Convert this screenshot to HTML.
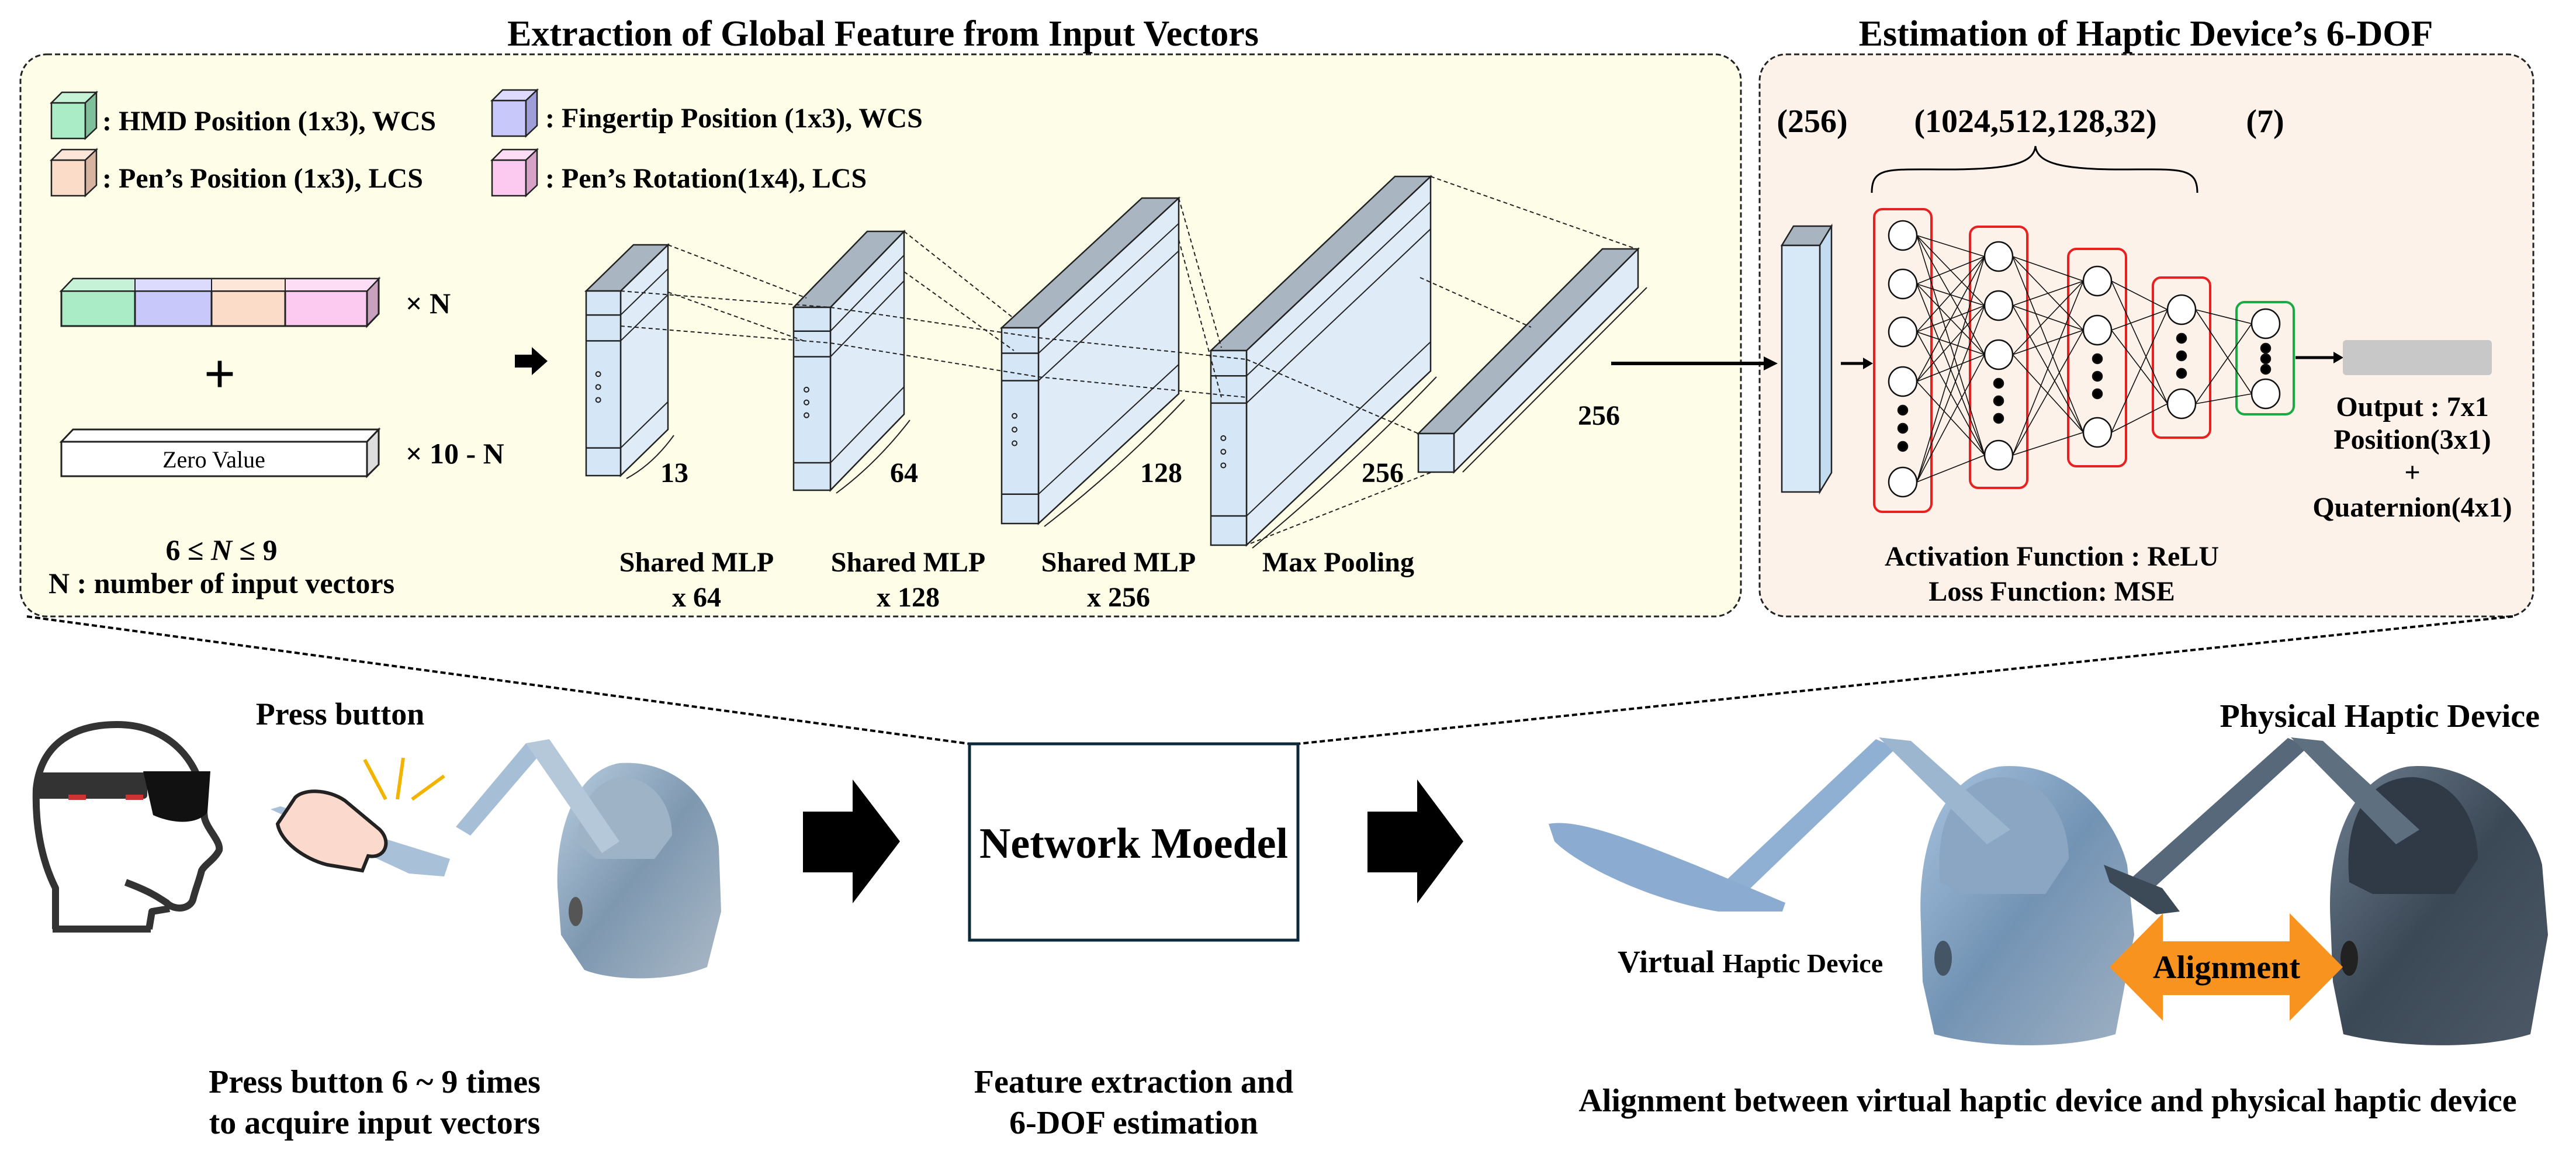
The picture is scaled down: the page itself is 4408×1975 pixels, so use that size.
<!DOCTYPE html>
<html><head><meta charset="utf-8">
<style>
html,body{margin:0;padding:0;background:#fff;}
svg{display:block;}
text{font-family:"Liberation Serif",serif;font-weight:bold;fill:#000;}
</style></head>
<body>
<svg width="4408" height="1975" viewBox="0 0 4408 1975" xmlns="http://www.w3.org/2000/svg">
<defs>
<linearGradient id="dv" x1="0" y1="0" x2="1" y2="1"><stop offset="0" stop-color="#b9cde0"/><stop offset="0.5" stop-color="#7e98b0"/><stop offset="1" stop-color="#aab8c6"/></linearGradient>
<linearGradient id="dv2" x1="0" y1="0" x2="1" y2="1"><stop offset="0" stop-color="#a8c4e0"/><stop offset="0.5" stop-color="#7393b4"/><stop offset="1" stop-color="#9fb0c2"/></linearGradient>
<linearGradient id="dp" x1="0" y1="0" x2="1" y2="1"><stop offset="0" stop-color="#6e7f90"/><stop offset="0.5" stop-color="#3b4856"/><stop offset="1" stop-color="#4d5966"/></linearGradient>
</defs>

<!-- Titles -->
<text x="1511" y="78" font-size="62" text-anchor="middle">Extraction of Global Feature from Input Vectors</text>
<text x="3672" y="78" font-size="62" text-anchor="middle">Estimation of Haptic Device’s 6-DOF</text>

<!-- Panels -->
<rect x="35" y="93" width="2944" height="962" rx="45" fill="#fdfde8" stroke="#222" stroke-width="3" stroke-dasharray="9,5"/>
<rect x="3011" y="93" width="1324" height="962" rx="45" fill="#fdf2ea" stroke="#222" stroke-width="3" stroke-dasharray="9,5"/>

<!-- Legend -->
<g stroke="#222" stroke-width="2.5">
<rect x="88" y="176" width="58" height="61" fill="#a9ecc6"/><polygon points="88,176 106,158 165,158 146,176" fill="#c6f3d8"/><polygon points="146,176 165,158 165,219 146,237" fill="#7fbf9c"/>
<rect x="88" y="274" width="58" height="61" fill="#fbdcc9"/><polygon points="88,274 106,256 165,256 146,274" fill="#fde6d8"/><polygon points="146,274 165,256 165,317 146,335" fill="#d8b4a0"/>
<rect x="842" y="172" width="58" height="61" fill="#c9c8fb"/><polygon points="842,172 860,154 919,154 900,172" fill="#dcdbfd"/><polygon points="900,172 919,154 919,215 900,233" fill="#9f9ed8"/>
<rect x="842" y="274" width="58" height="61" fill="#fccaf0"/><polygon points="842,274 860,256 919,256 900,274" fill="#fddcf5"/><polygon points="900,274 919,256 919,317 900,335" fill="#d6a2c8"/>
</g>
<text x="175" y="223" font-size="48">: HMD Position (1x3), WCS</text>
<text x="175" y="321" font-size="48">: Pen’s Position (1x3), LCS</text>
<text x="933" y="218" font-size="48">: Fingertip Position (1x3), WCS</text>
<text x="933" y="321" font-size="48">: Pen’s Rotation(1x4), LCS</text>

<!-- Input vector -->
<g stroke="#222" stroke-width="3">
<polygon points="105,498 125,477 648,477 628,498" fill="#e8e8ef"/>
<polygon points="628,498 648,477 648,537 628,558" fill="#c9a0be"/>
<rect x="105" y="498" width="126" height="60" fill="#a9ecc6"/>
<rect x="231" y="498" width="131" height="60" fill="#c9c8fb"/>
<rect x="362" y="498" width="126" height="60" fill="#fbdcc9"/>
<rect x="488" y="498" width="140" height="60" fill="#fccaf0"/>
<polygon points="105,756 125,735 648,735 628,756" fill="#fff"/>
<polygon points="628,756 648,735 648,795 628,815" fill="#ddd"/>
<rect x="105" y="756" width="523" height="59" fill="#fff"/>
</g>
<polygon points="125,477 231,477 231,498 105,498" fill="#c6f3d8" stroke="#222" stroke-width="2"/>
<polygon points="231,477 362,477 362,498 231,498" fill="#dcdbfd" stroke="#222" stroke-width="2"/>
<polygon points="362,477 488,477 488,498 362,498" fill="#fde6d8" stroke="#222" stroke-width="2"/>
<polygon points="488,477 648,477 628,498 488,498" fill="#fddcf5" stroke="#222" stroke-width="2"/>
<text x="366" y="800" font-size="40" style="font-weight:normal" text-anchor="middle">Zero Value</text>
<text x="694" y="536" font-size="50">× N</text>
<text x="694" y="793" font-size="50">× 10 - N</text>
<text x="376" y="672" font-size="96" text-anchor="middle">+</text>
<text x="379" y="958" font-size="50" text-anchor="middle">6 ≤ <tspan font-style="italic">N</tspan> ≤ 9</text>
<text x="379" y="1015" font-size="50" text-anchor="middle">N : number of input vectors</text>
<!-- small arrow -->
<polygon points="881,607 910,607 910,594 937,618 910,642 910,629 881,629" fill="#000"/>

<!-- Blocks -->
<g id="blocks" stroke="#222" stroke-width="2.5"></g>
<g stroke="#222" stroke-width="2" stroke-dasharray="7,5" fill="none">
<line x1="1143" y1="419" x2="1380" y2="510"/><line x1="1143" y1="500" x2="1380" y2="585"/>
<line x1="1062" y1="498" x2="1421" y2="526"/><line x1="1062" y1="558" x2="1421" y2="587"/>
<line x1="1547" y1="396" x2="1735" y2="545"/><line x1="1547" y1="465" x2="1735" y2="600"/>
<line x1="1421" y1="526" x2="1777" y2="578"/><line x1="1421" y1="587" x2="1777" y2="645"/>
<line x1="2017" y1="339" x2="2090" y2="595"/><line x1="2017" y1="410" x2="2090" y2="680"/>
<line x1="1777" y1="578" x2="2133" y2="615"/><line x1="1777" y1="645" x2="2133" y2="680"/>
<line x1="2448" y1="302" x2="2800" y2="426"/><line x1="2133" y1="615" x2="2427" y2="742"/>
<line x1="2140" y1="930" x2="2450" y2="808"/><line x1="2430" y1="475" x2="2620" y2="560"/>
</g>
<g font-size="48">
<text x="1130" y="825">13</text><text x="1523" y="825">64</text><text x="1951" y="825">128</text><text x="2330" y="825">256</text><text x="2700" y="727">256</text>
</g>
<g font-size="48" text-anchor="middle">
<text x="1192" y="978">Shared MLP</text><text x="1192" y="1038">x 64</text>
<text x="1554" y="978">Shared MLP</text><text x="1554" y="1038">x 128</text>
<text x="1914" y="978">Shared MLP</text><text x="1914" y="1038">x 256</text>
<text x="2290" y="978">Max Pooling</text>
</g>

<!-- main arrow -->
<line x1="2757" y1="622" x2="3020" y2="622" stroke="#000" stroke-width="6"/>
<polygon points="3018,610 3042,622 3018,634" fill="#000"/>

<!-- Right panel -->
<g font-size="56" text-anchor="middle">
<text x="3101" y="226">(256)</text><text x="3483" y="226">(1024,512,128,32)</text><text x="3876" y="226">(7)</text>
</g>
<path d="M3203,330 C3203,285 3230,290 3330,290 C3440,290 3480,280 3483,250 C3486,280 3530,290 3630,290 C3730,290 3760,285 3760,330" fill="none" stroke="#000" stroke-width="3"/>
<g stroke="#222" stroke-width="2.5">
<polygon points="3049,420 3069,387 3134,387 3114,420" fill="#a8b4c0"/>
<polygon points="3114,420 3134,387 3134,809 3114,842" fill="#c4dcef"/>
<rect x="3049" y="420" width="65" height="422" fill="#d7e8f7"/>
</g>
<line x1="3150" y1="622" x2="3190" y2="622" stroke="#000" stroke-width="5"/>
<polygon points="3188,612 3205,622 3188,632" fill="#000"/>
<g fill="none" stroke="#e82020" stroke-width="4">
<rect x="3207" y="358" width="98" height="518" rx="14"/>
<rect x="3371" y="388" width="98" height="447" rx="14"/>
<rect x="3539" y="426" width="99" height="372" rx="14"/>
<rect x="3684" y="475" width="98" height="274" rx="14"/>
</g>
<rect x="3827" y="517" width="98" height="192" rx="14" fill="none" stroke="#1aaa44" stroke-width="4"/>
<g id="conn" stroke="#111" stroke-width="1.6"></g>
<g id="nodes" fill="#fff" stroke="#111" stroke-width="2.5"></g>
<line x1="3928" y1="612" x2="3995" y2="612" stroke="#000" stroke-width="5"/>
<polygon points="3993,602 4010,612 3993,622" fill="#000"/>
<rect x="4009" y="582" width="255" height="60" rx="6" fill="#c8c8c8"/>
<g font-size="48" text-anchor="middle">
<text x="4128" y="712">Output : 7x1</text><text x="4128" y="768">Position(3x1)</text><text x="4128" y="824">+</text><text x="4128" y="884">Quaternion(4x1)</text>
<text x="3511" y="968">Activation Function : ReLU</text><text x="3511" y="1028">Loss Function: MSE</text>
</g>

<!-- zoom dashed lines -->
<g stroke="#000" stroke-width="4" stroke-dasharray="9,5">
<line x1="46" y1="1055" x2="1659" y2="1273"/>
<line x1="4300" y1="1055" x2="2221" y2="1273"/>
</g>

<!-- Network box -->
<rect x="1659" y="1273" width="562" height="336" fill="#fff" stroke="#0d2a3a" stroke-width="5"/>
<text x="1940" y="1468" font-size="74" text-anchor="middle">Network Moedel</text>
<polygon points="1374,1389 1459,1389 1459,1334 1540,1440 1459,1546 1459,1493 1374,1493" fill="#000"/>
<polygon points="2340,1389 2425,1389 2425,1334 2504,1440 2425,1546 2425,1493 2340,1493" fill="#000"/>

<!-- Head -->
<path d="M95,1590 L95,1520 C70,1470 60,1410 62,1350 C70,1270 130,1240 200,1240 C280,1240 330,1290 345,1350 L350,1400 C355,1420 378,1440 375,1455 C368,1470 350,1480 345,1490 C340,1510 335,1520 330,1540 C325,1555 300,1560 285,1545 C270,1535 255,1525 215,1510 M255,1590 L260,1560 L290,1555" fill="none" stroke="#333" stroke-width="12" stroke-linejoin="round"/>
<line x1="90" y1="1590" x2="258" y2="1590" stroke="#333" stroke-width="12"/>
<rect x="62" y="1322" width="190" height="45" rx="6" fill="#333"/>
<path d="M245,1320 L360,1320 L355,1390 C340,1410 300,1412 262,1395 Z" fill="#111"/>
<rect x="117" y="1360" width="30" height="9" fill="#c33"/><rect x="215" y="1360" width="30" height="9" fill="#c33"/>
<!-- hand + device 1 -->
<g stroke="#f2b400" stroke-width="6"><line x1="624" y1="1300" x2="660" y2="1368"/><line x1="690" y1="1297" x2="680" y2="1368"/><line x1="760" y1="1328" x2="705" y2="1368"/></g>
<path d="M954,1520 C950,1430 980,1320 1060,1306 C1150,1300 1220,1360 1230,1450 L1234,1560 L1210,1655 C1150,1680 1050,1680 1000,1660 L960,1600 Z" fill="url(#dv)"/>
<path d="M990,1445 C985,1380 1020,1330 1070,1330 C1120,1335 1150,1380 1150,1430 L1120,1470 L1020,1470 Z" fill="#9fb3c6"/>
<polygon points="780,1415 900,1272 925,1290 805,1430" fill="#a7bfd6"/>
<polygon points="900,1272 940,1265 1060,1440 1030,1460" fill="#b5c8d9"/>
<polygon points="463,1385 480,1380 770,1470 760,1500 700,1495" fill="#a8c0d8"/>
<path d="M505,1365 C520,1350 560,1350 590,1370 L650,1420 C670,1440 660,1470 630,1465 L620,1490 L560,1480 C520,1470 480,1440 475,1410 Z" fill="#fbd9cc" stroke="#222" stroke-width="6"/>
<ellipse cx="985" cy="1560" rx="12" ry="25" fill="#555"/>

<!-- Virtual device -->
<path d="M3287,1580 C3280,1450 3320,1330 3420,1312 C3540,1300 3620,1400 3640,1480 L3652,1600 L3620,1770 C3520,1800 3380,1790 3310,1770 L3290,1680 Z" fill="url(#dv2)"/>
<path d="M3320,1510 C3310,1400 3350,1330 3430,1330 C3500,1335 3540,1400 3540,1470 L3500,1530 L3360,1530 Z" fill="#8aa6c2"/>
<polygon points="2950,1510 3210,1265 3245,1280 2985,1530" fill="#8fb0d3"/>
<polygon points="3215,1262 3270,1268 3440,1420 3400,1445" fill="#9cb6d0"/>
<path d="M2650,1410 C2700,1400 2800,1440 2900,1480 L3055,1545 L3050,1560 L2940,1560 C2820,1540 2700,1480 2660,1440 Z" fill="#8cabd0"/>
<ellipse cx="3325" cy="1640" rx="15" ry="30" fill="#456"/>
<!-- Physical device -->
<path d="M3988,1580 C3980,1450 4020,1330 4120,1312 C4240,1300 4330,1400 4350,1480 L4360,1600 L4330,1770 C4230,1800 4090,1790 4010,1770 L3992,1680 Z" fill="url(#dp)"/>
<path d="M4020,1510 C4010,1400 4050,1330 4130,1330 C4200,1335 4240,1400 4240,1470 L4200,1530 L4060,1530 Z" fill="#2f3a46"/>
<polygon points="3650,1500 3915,1263 3950,1278 3685,1520" fill="#56687a"/>
<polygon points="3920,1262 3975,1268 4140,1420 4100,1445" fill="#5e6f80"/>
<path d="M3600,1480 L3700,1520 L3730,1560 L3690,1565 L3610,1510 Z" fill="#3c4a58"/>
<ellipse cx="4020" cy="1640" rx="15" ry="30" fill="#222"/>

<!-- Alignment arrow -->
<polygon points="3610,1655 3701,1563 3701,1611 3918,1611 3918,1563 4009,1655 3918,1747 3918,1703 3701,1703 3701,1747" fill="#f7931e"/>
<text x="3810" y="1674" font-size="56" text-anchor="middle">Alignment</text>

<!-- Bottom labels -->
<text x="582" y="1240" font-size="54" text-anchor="middle">Press button</text>
<text x="641" y="1870" font-size="56" text-anchor="middle">Press button 6 ~ 9 times</text>
<text x="641" y="1940" font-size="56" text-anchor="middle">to acquire input vectors</text>
<text x="1940" y="1870" font-size="56" text-anchor="middle">Feature extraction and</text>
<text x="1940" y="1940" font-size="56" text-anchor="middle">6-DOF estimation</text>
<text x="2768" y="1664" font-size="54">Virtual <tspan font-size="46">Haptic Device</tspan></text>
<text x="4346" y="1244" font-size="56" text-anchor="end">Physical Haptic Device</text>
<text x="3504" y="1902" font-size="56" text-anchor="middle">Alignment  between virtual haptic device and physical haptic device</text>
</svg>
<script>
(function(){
var NS="http://www.w3.org/2000/svg";
function el(p,t,a){var e=document.createElementNS(NS,t);for(var k in a)e.setAttribute(k,a[k]);p.appendChild(e);return e;}
var B=document.getElementById('blocks');
var blocks=[[1003,498,59,316,81,-79,1],[1358,526,63,313,126,-130,1],[1714,561,63,335,240,-222,1],[2072,600,61,333,315,-298,1],[2427,742,61,66,315,-316,0]];
blocks.forEach(function(b){
 var x=b[0],y=b[1],w=b[2],h=b[3],dx=b[4],dy=b[5];
 el(B,'polygon',{points:[x+w,y,x+w+dx,y+dy,x+w+dx,y+h+dy,x+w,y+h].join(','),fill:'#dfecf8'});
 el(B,'polygon',{points:[x,y,x+dx,y+dy,x+w+dx,y+dy,x+w,y].join(','),fill:'#a9b6c2'});
 el(B,'rect',{x:x,y:y,width:w,height:h,fill:'#d5e7f6'});
 if(b[6]){
  [0.13,0.27,0.85].forEach(function(f){var yy=y+h*f;
   el(B,'line',{x1:x,y1:yy,x2:x+w,y2:yy});
   el(B,'line',{x1:x+w,y1:yy,x2:x+w+dx,y2:yy+dy,'stroke-width':2});});
  [0.45,0.52,0.59].forEach(function(f){el(B,'circle',{cx:x+w*0.35,cy:y+h*f,r:4,fill:'none','stroke-width':2});});
  el(B,'path',{d:'M'+(x+w+10)+','+(y+h+5)+' Q'+(x+w+dx/2+15)+','+(y+h+dy/2+20)+' '+(x+w+dx+10)+','+(y+h+dy+10),fill:'none','stroke-width':2});
 } else {
  el(B,'path',{d:'M'+(x+w+15)+','+(y+h)+' L'+(x+w+dx+15)+','+(y+h+dy),fill:'none','stroke-width':2});
 }
});
var L=[[3256,[403,486,568,653,825],[702,733,764]],[3420,[439,523,607,779],[656,686,716]],[3589,[481,565,740],[614,644,674]],[3733,[530,691],[579,609,639]],[3877,[554,674],[596,614,632]]];
var C=document.getElementById('conn'),N=document.getElementById('nodes');
for(var i=0;i<L.length-1;i++){L[i][1].forEach(function(a){L[i+1][1].forEach(function(bb){el(C,'line',{x1:L[i][0]+24,y1:a,x2:L[i+1][0]-24,y2:bb});});});}
L.forEach(function(l){l[1].forEach(function(y){el(N,'ellipse',{cx:l[0],cy:y,rx:24,ry:25});});l[2].forEach(function(y){el(N,'circle',{cx:l[0],cy:y,r:8,fill:'#000'});});});
})();
</script>
</body></html>
